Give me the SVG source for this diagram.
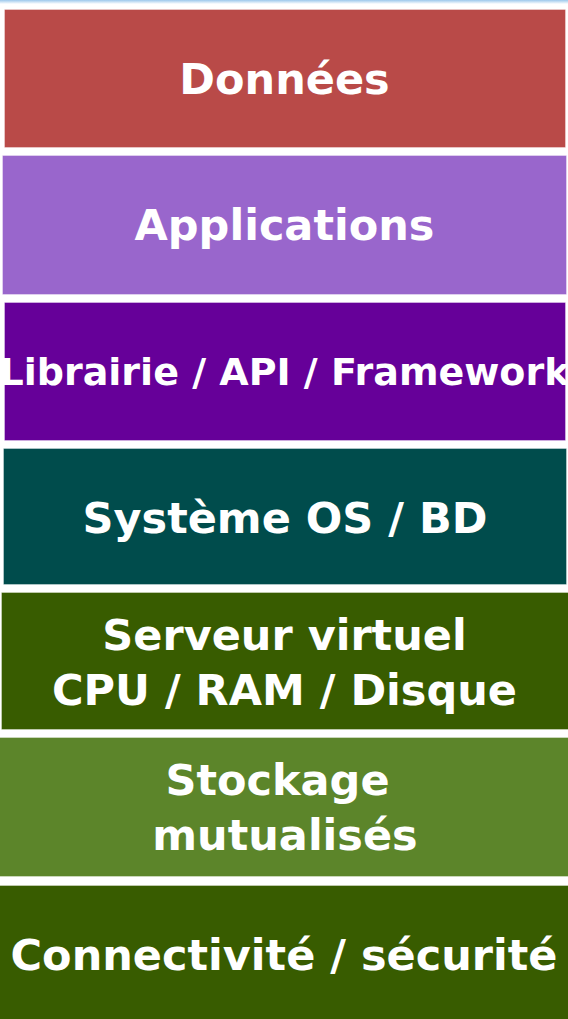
<svg xmlns="http://www.w3.org/2000/svg" width="568" height="1019" viewBox="0 0 568 1019">
<defs>
<linearGradient id="topbar" x1="0" y1="0" x2="0" y2="1">
<stop offset="0" stop-color="#9cc8ec"/>
<stop offset="1" stop-color="#ffffff"/>
</linearGradient>
</defs>
<style>
.box{stroke:#ffffff;stroke-opacity:0.35;stroke-width:1}
.lbl{font-family:"DejaVu Sans","Liberation Sans",sans-serif;font-weight:bold;font-size:43px;fill:#ffffff;text-anchor:middle}
</style>
<rect x="0" y="0" width="568" height="1019" fill="#ffffff"/>
<rect x="0" y="0" width="568" height="4" fill="url(#topbar)"/>
<g id="donnees">
<rect class="box" x="4.5" y="9.5" width="561" height="138" fill="#b94a48"/>
<text class="lbl" x="284.5" y="94">Données</text>
</g>
<g id="applications">
<rect class="box" x="2.5" y="155.5" width="564" height="139" fill="#9966cc"/>
<text class="lbl" x="284.5" y="240">Applications</text>
</g>
<g id="librairie">
<rect class="box" x="4.5" y="302.5" width="561" height="138" fill="#660099"/>
<text class="lbl" x="284.5" y="385" style="font-size:38px">Librairie / API / Framework</text>
</g>
<g id="systeme">
<rect class="box" x="3.5" y="448.5" width="563" height="136" fill="#004c4c"/>
<text class="lbl" x="285" y="533">Système OS / BD</text>
</g>
<g id="serveur">
<rect class="box" x="1.5" y="592.5" width="567" height="137" fill="#385c00"/>
<text class="lbl" x="284.5" y="650">Serveur virtuel</text>
<text class="lbl" x="284.5" y="705">CPU / RAM / Disque</text>
</g>
<g id="stockage">
<rect class="box" x="-1" y="737.5" width="570" height="139" fill="#5c852a"/>
<text class="lbl" x="277.5" y="795">Stockage</text>
<text class="lbl" x="285" y="850">mutualisés</text>
</g>
<g id="connectivite">
<rect class="box" x="-1" y="885.5" width="570" height="140" fill="#385c00"/>
<text class="lbl" x="284" y="970">Connectivité / sécurité</text>
</g>
<g id="connectors"/>
</svg>
